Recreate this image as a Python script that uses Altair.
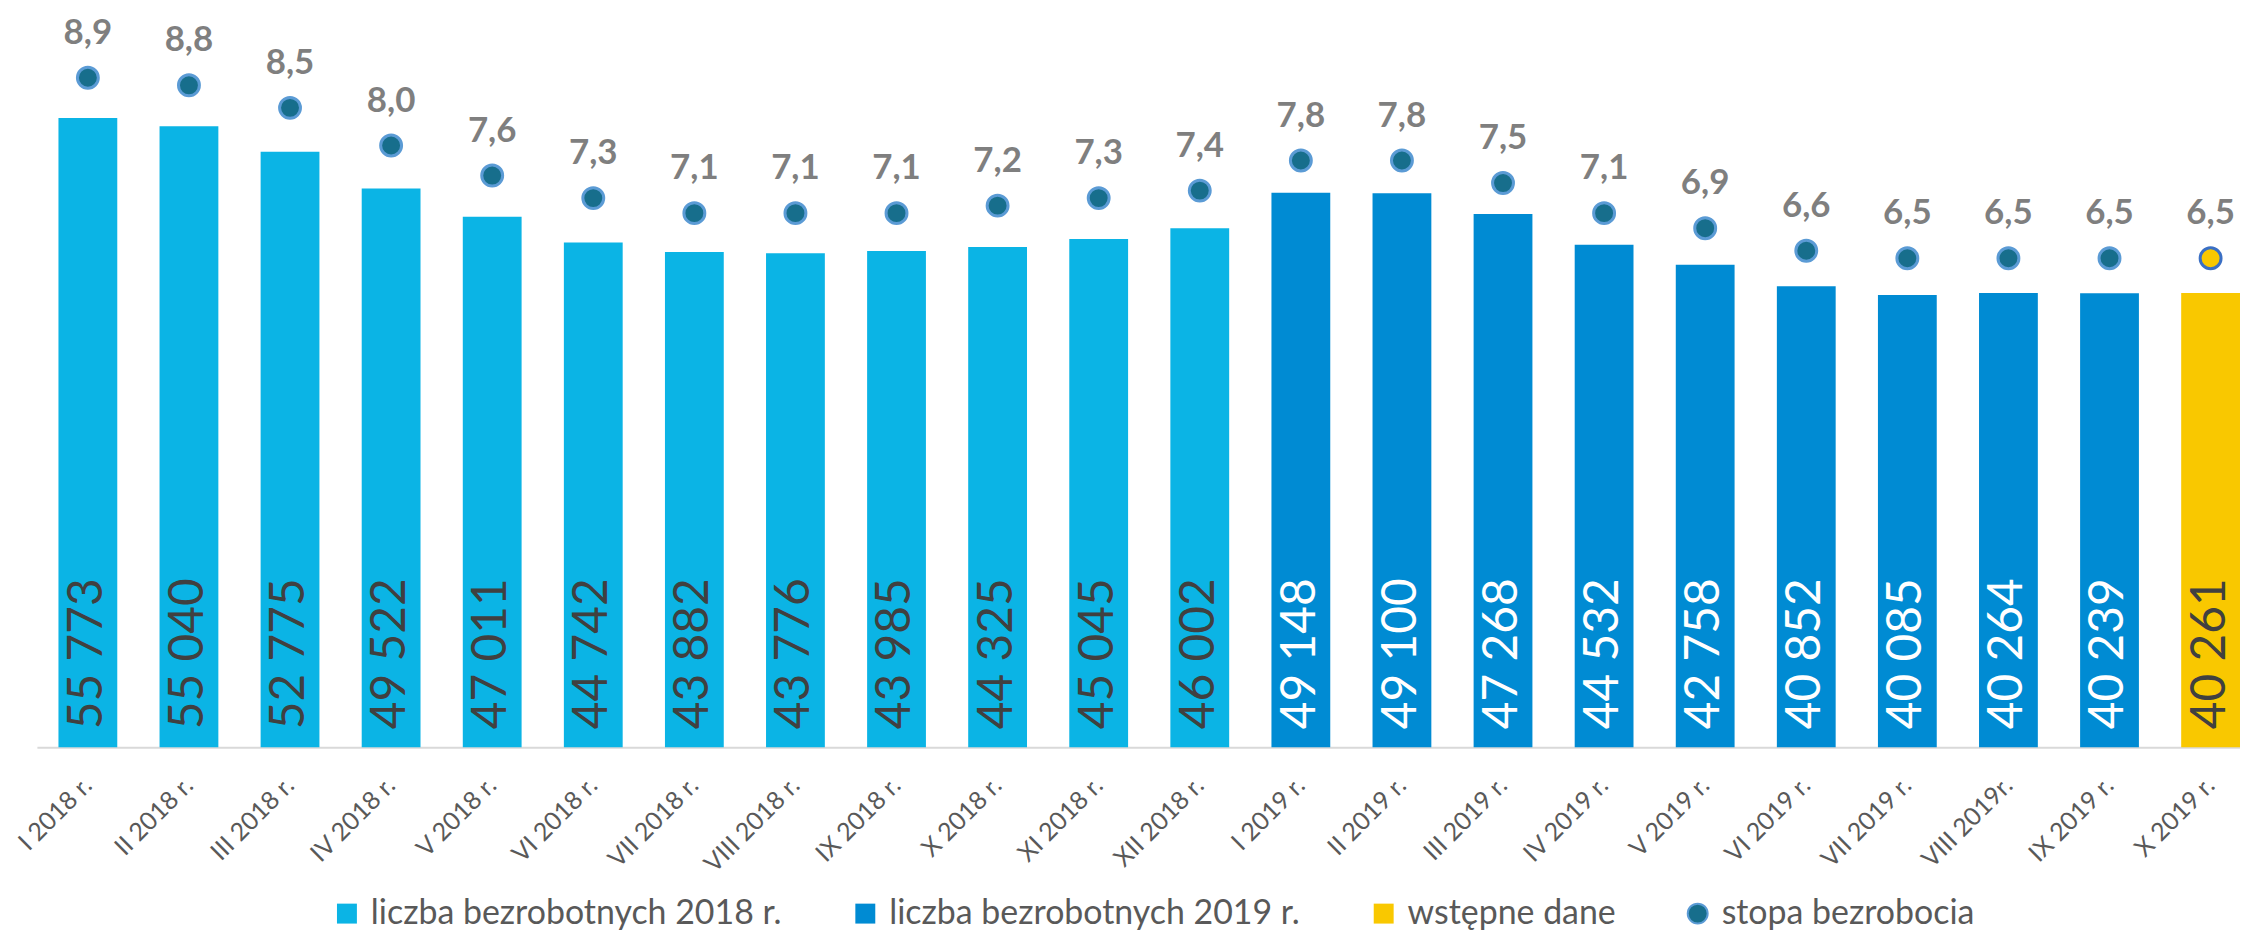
import altair as alt
import pandas as pd

months = ["I 2018 r.", "II 2018 r.", "III 2018 r.", "IV 2018 r.", "V 2018 r.", "VI 2018 r.",
          "VII 2018 r.", "VIII 2018 r.", "IX 2018 r.", "X 2018 r.", "XI 2018 r.", "XII 2018 r.",
          "I 2019 r.", "II 2019 r.", "III 2019 r.", "IV 2019 r.", "V 2019 r.", "VI 2019 r.",
          "VII 2019 r.", "VIII 2019r.", "IX 2019 r.", "X 2019 r."]
unemployed = [55773, 55040, 52775, 49522, 47011, 44742, 43882, 43776, 43985, 44325, 45045, 46002,
              49148, 49100, 47268, 44532, 42758, 40852, 40085, 40264, 40239, 40261]
rate = [8.9, 8.8, 8.5, 8.0, 7.6, 7.3, 7.1, 7.1, 7.1, 7.2, 7.3, 7.4,
        7.8, 7.8, 7.5, 7.1, 6.9, 6.6, 6.5, 6.5, 6.5, 6.5]
series = (["liczba bezrobotnych 2018 r."] * 12 + ["liczba bezrobotnych 2019 r."] * 9
          + ["wstępne dane"])
series_names = ["liczba bezrobotnych 2018 r.", "liczba bezrobotnych 2019 r.", "wstępne dane"]
series_colors = ["#0BB4E5", "#008BD3", "#F9C800"]
bar_label_colors = {"liczba bezrobotnych 2018 r.": "#404040",
                    "liczba bezrobotnych 2019 r.": "#FFFFFF",
                    "wstępne dane": "#404040"}
dot_fill = ["#176E8C"] * 21 + ["#F9C800"]
dot_stroke = ["#5B9BD5"] * 21 + ["#3A6FC4"]
rate_series = "stopa bezrobocia"

df = pd.DataFrame({
    "month": months,
    "unemployed": unemployed,
    "rate": rate,
    "series": series,
})
df["countLabel"] = [f"{v:,}".replace(",", " ") for v in unemployed]
df["rateLabel"] = [f"{v:.1f}".replace(".", ",") for v in rate]
df["labelColor"] = [bar_label_colors[s] for s in series]
df["dotFill"] = dot_fill
df["dotStroke"] = dot_stroke
df["rateSeries"] = rate_series

FONT = "Lato"
W, H = 2210, 679
LEG_Y = 829

x_enc = alt.X(
    "month:N", sort=months, title=None,
    scale=alt.Scale(paddingInner=0.4182, paddingOuter=0.1066, align=1),
    axis=alt.Axis(labelAngle=-45, labelAlign="right", labelBaseline="middle",
                  labelPadding=34, labelFontSize=25, labelColor="#595959", labelFont=FONT,
                  ticks=False, tickSize=0, domain=True, domainColor="#D9D9D9",
                  domainWidth=2, grid=False),
)
count_scale = alt.Scale(domain=[0, 60000])
y_count = alt.Y("unemployed:Q", scale=count_scale, axis=None)

bars = alt.Chart(df).mark_bar().encode(
    x=x_enc,
    y=y_count,
    color=alt.Color("series:N",
                    scale=alt.Scale(domain=series_names, range=series_colors),
                    legend=alt.Legend(orient="none", legendX=294, legendY=LEG_Y,
                                      direction="horizontal", title=None,
                                      symbolType="square", symbolSize=400,
                                      symbolStrokeWidth=0, labelFontSize=34,
                                      labelColor="#595959", labelFont=FONT,
                                      columnPadding=66, labelOffset=7, padding=0,
                                      labelLimit=800)),
)

bar_text = alt.Chart(df).transform_calculate(base="0").mark_text(
    angle=270, align="left", baseline="middle", dx=18, fontSize=48, font=FONT
).encode(
    x=x_enc,
    y=alt.Y("base:Q", scale=count_scale, axis=None),
    text="countLabel:N",
    fill=alt.Fill("labelColor:N", scale=None, legend=None),
)

count_layer = alt.layer(bars, bar_text)

y_rate = alt.Y("rate:Q", scale=alt.Scale(domain=[0, 9]), axis=None)

dots = alt.Chart(df).mark_point(filled=True, size=440, strokeWidth=3, opacity=1).encode(
    x=x_enc,
    y=y_rate,
    fill=alt.Fill("dotFill:N", scale=None, legend=None),
    stroke=alt.Stroke("dotStroke:N", scale=None, legend=None),
    shape=alt.Shape("rateSeries:N", scale=alt.Scale(range=["circle"]),
                    legend=alt.Legend(orient="none", legendX=1649, legendY=LEG_Y,
                                      title=None, symbolSize=400,
                                      symbolFillColor="#176E8C",
                                      symbolStrokeColor="#5B9BD5",
                                      symbolStrokeWidth=2, labelFontSize=34,
                                      labelColor="#595959", labelFont=FONT,
                                      labelOffset=7, padding=0, labelLimit=800)),
)

rate_text = alt.Chart(df).mark_text(dy=-34, baseline="alphabetic", fontWeight="bold",
                                    fontSize=35, font=FONT, color="#7F7F7F").encode(
    x=x_enc,
    y=y_rate,
    text="rateLabel:N",
)

rate_layer = alt.layer(dots, rate_text)

chart = alt.layer(count_layer, rate_layer).resolve_scale(
    y="independent"
).properties(
    width=W, height=H,
    background="white",
    autosize=alt.AutoSizeParams(type="none"),
    padding={"left": 29, "top": 61, "right": 0, "bottom": 184},
).configure_view(strokeWidth=0, stroke="transparent").configure_axis(grid=False)

chart.save("out.html", embed_options={"renderer": "svg", "actions": False})
